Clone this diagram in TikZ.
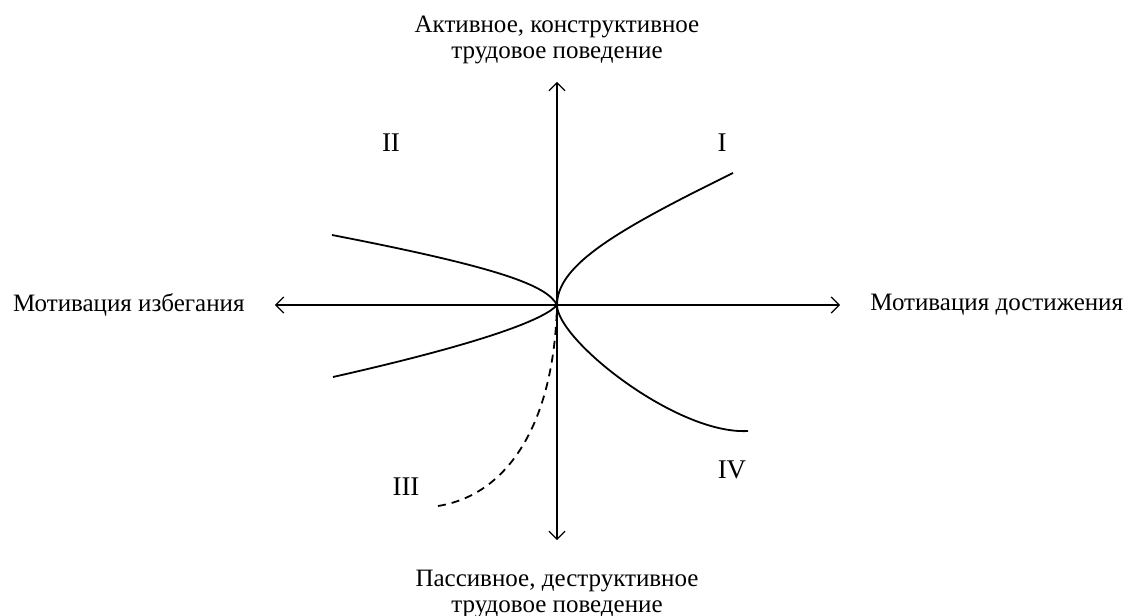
\documentclass[tikz,border=0pt]{standalone}
\usepackage{fontspec}
\setmainfont{Liberation Serif}
\usetikzlibrary{arrows.meta,positioning}
\begin{document}
\begin{tikzpicture}[x=.5pt,y=.5pt, every node/.style={font=\fontsize{12.5}{13}\selectfont},
 axis/.style={line width=.6pt,{Straight Barb[length=4pt,width=8pt]}-{Straight Barb[length=4pt,width=8pt]}},
 curve/.style={line width=.9pt},
 axlabel/.style={align=center,inner sep=0pt}]
\useasboundingbox (-557,-311) rectangle (574,305);
% axes
\coordinate (o) at (0,0);
\coordinate (w) at (-282,0);
\coordinate (e) at (283,0);
\coordinate (n) at (0,223);
\coordinate (s) at (0,-235);
\draw[axis] (w) -- (e);
\draw[axis] (n) -- (s);
\node[axlabel] (top) at (0,265) {Активное, конструктивное\\трудовое поведение};
\node[axlabel] (bot) at (0,-289) {Пассивное, деструктивное\\трудовое поведение};
\node[axlabel,anchor=east] (avoid) at (-312,0) {Мотивация избегания};
\node[axlabel,anchor=west] (achieve) at (313,0) {Мотивация достижения};
% quadrants
\foreach \n/\x/\y/\lab in {qi/165/162/I,qii/-166/162/II,qiii/-151/-182/III,qiv/175/-165/IV}
 \node[font=\fontsize{13.5}{13}\selectfont] (\n) at (\x,\y) {\lab};
% curves
\draw[curve] (o) .. controls (0,40) and (60,75) .. (176,132);
\draw[curve] (o) .. controls (0,-35) and (120,-130) .. (191,-126);
\draw[curve] (o) .. controls (-10,20) and (-60,38) .. (-225,70);
\draw[curve] (o) .. controls (-10,-12) and (-60,-35) .. (-224,-72);
\draw[curve,dash pattern=on 4pt off 3pt] (-119,-201) .. controls (-50,-190) and (-3,-120) .. (o);
\end{tikzpicture}
\end{document}
